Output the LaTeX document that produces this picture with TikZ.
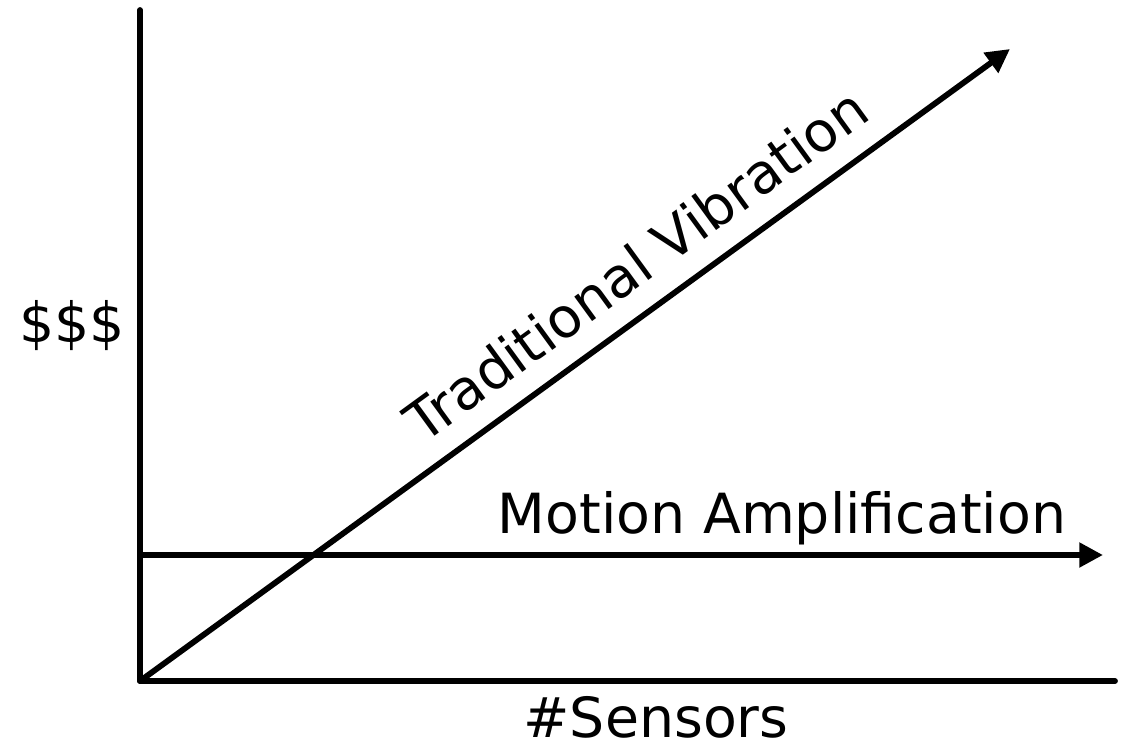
\documentclass[tikz,border=0pt]{standalone}
\usepackage{fontspec}
\setmainfont{DejaVu Sans}
\usetikzlibrary{arrows.meta,positioning}

\begin{document}
\begin{tikzpicture}[x=0.02cm,y=-0.02cm,line cap=round,line join=round,
  axisline/.style={line width=3.3pt},
  costline/.style={line width=3.3pt,-{Triangle[length=13.5pt,width=13.5pt]}},
  lbl/.style={font=\fontsize{31.5}{38}\selectfont,inner sep=0pt}]
 \useasboundingbox (0,0) rectangle (1125,753);
 % Achsen
 \coordinate (origin) at (140,681);
 \coordinate (ytop) at (140,10);
 \coordinate (xend) at (1115,681);
 \draw[axisline] (ytop)--(origin)--(xend);
 \node[lbl] (cost) at (72,326) {\$\$\$};
 \node[lbl,anchor=base] (sensors) at (656,737) {\#Sensors};
 % Kostenverlauf
 \coordinate (mastart) at (140,555);
 \coordinate (maend) at (1103,555);
 \coordinate (tvend) at (1010,49);
 \draw[costline] (mastart)--(maend);
 \node[lbl,anchor=base] (malabel) at (782,533) {Motion Amplification};
 \draw[costline] (origin)--(tvend);
 \node[lbl,anchor=base,rotate=36.04] (tvlabel) at (648,281) {Traditional Vibration};
\end{tikzpicture}
\end{document}
